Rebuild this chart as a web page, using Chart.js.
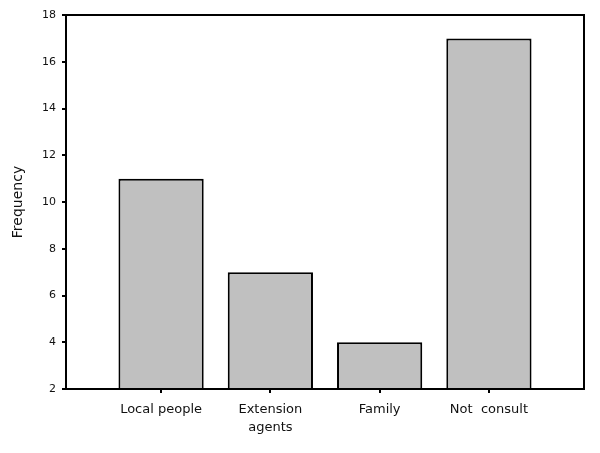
<!DOCTYPE html>
<html><head><meta charset="utf-8">
<script src="https://cdn.jsdelivr.net/npm/chart.js@4/dist/chart.umd.min.js"></script>
<style>html,body{margin:0;padding:0;background:#fff}#wrap{width:600px;height:453px}</style>
</head><body><div id="wrap"><canvas id="c" width="600" height="453"></canvas></div>
<script>
const categories = [["Local people"], ["Extension", "agents"], ["Family"], ["Not  consult"]];
const frequency = [11, 7, 4, 17];
const yTicks = [2, 4, 6, 8, 10, 12, 14, 16, 18];

const points = frequency.map((v, i) => ({x: i + 1, y: v}));

const frame = {
  id: 'frame',
  afterDatasetsDraw(chart) {
    const a = chart.chartArea, ctx = chart.ctx;
    ctx.save();
    ctx.strokeStyle = '#000';
    ctx.lineWidth = 2;
    ctx.strokeRect(a.left, a.top, a.right - a.left, a.bottom - a.top);
    ctx.restore();
  }
};

new Chart(document.getElementById('c'), {
  type: 'bar',
  data: {
    datasets: [{
      data: points,
      backgroundColor: '#c0c0c0',
      borderColor: '#000',
      borderWidth: 2,
      barPercentage: 0.78,
      categoryPercentage: 1
    }]
  },
  options: {
    responsive: false,
    animation: false,
    layout: {padding: {top: 15, right: 16, left: 10, bottom: 0}},
    plugins: {legend: {display: false}, tooltip: {enabled: false}},
    scales: {
      x: {
        type: 'linear',
        offset: false,
        min: 0.13,
        max: 4.87,
        afterBuildTicks(s) { s.ticks = categories.map((c, i) => ({value: i + 1})); },
        afterFit(s) { s.height = 64; },
        grid: {offset: false, drawOnChartArea: false, drawTicks: true, tickLength: 4, color: '#000', lineWidth: 2},
        border: {display: false},
        ticks: {
          callback: (v) => categories[v - 1],
          color: '#111',
          font: {family: 'DejaVu Sans', size: 13, lineHeight: 1.35},
          padding: 8,
          maxRotation: 0
        }
      },
      y: {
        min: 2,
        max: 18,
        afterBuildTicks(s) { s.ticks = yTicks.map(v => ({value: v})); },
        afterFit(s) { s.width = 56; },
        grid: {drawOnChartArea: false, drawTicks: true, tickLength: 4, color: '#000', lineWidth: 2},
        border: {display: false},
        title: {display: true, text: 'Frequency', color: '#111', font: {family: 'DejaVu Sans', size: 14}, padding: {top: 0, bottom: 8}},
        ticks: {color: '#111', font: {family: 'DejaVu Sans', size: 11}, padding: 6}
      }
    }
  },
  plugins: [frame]
});
</script></body></html>
